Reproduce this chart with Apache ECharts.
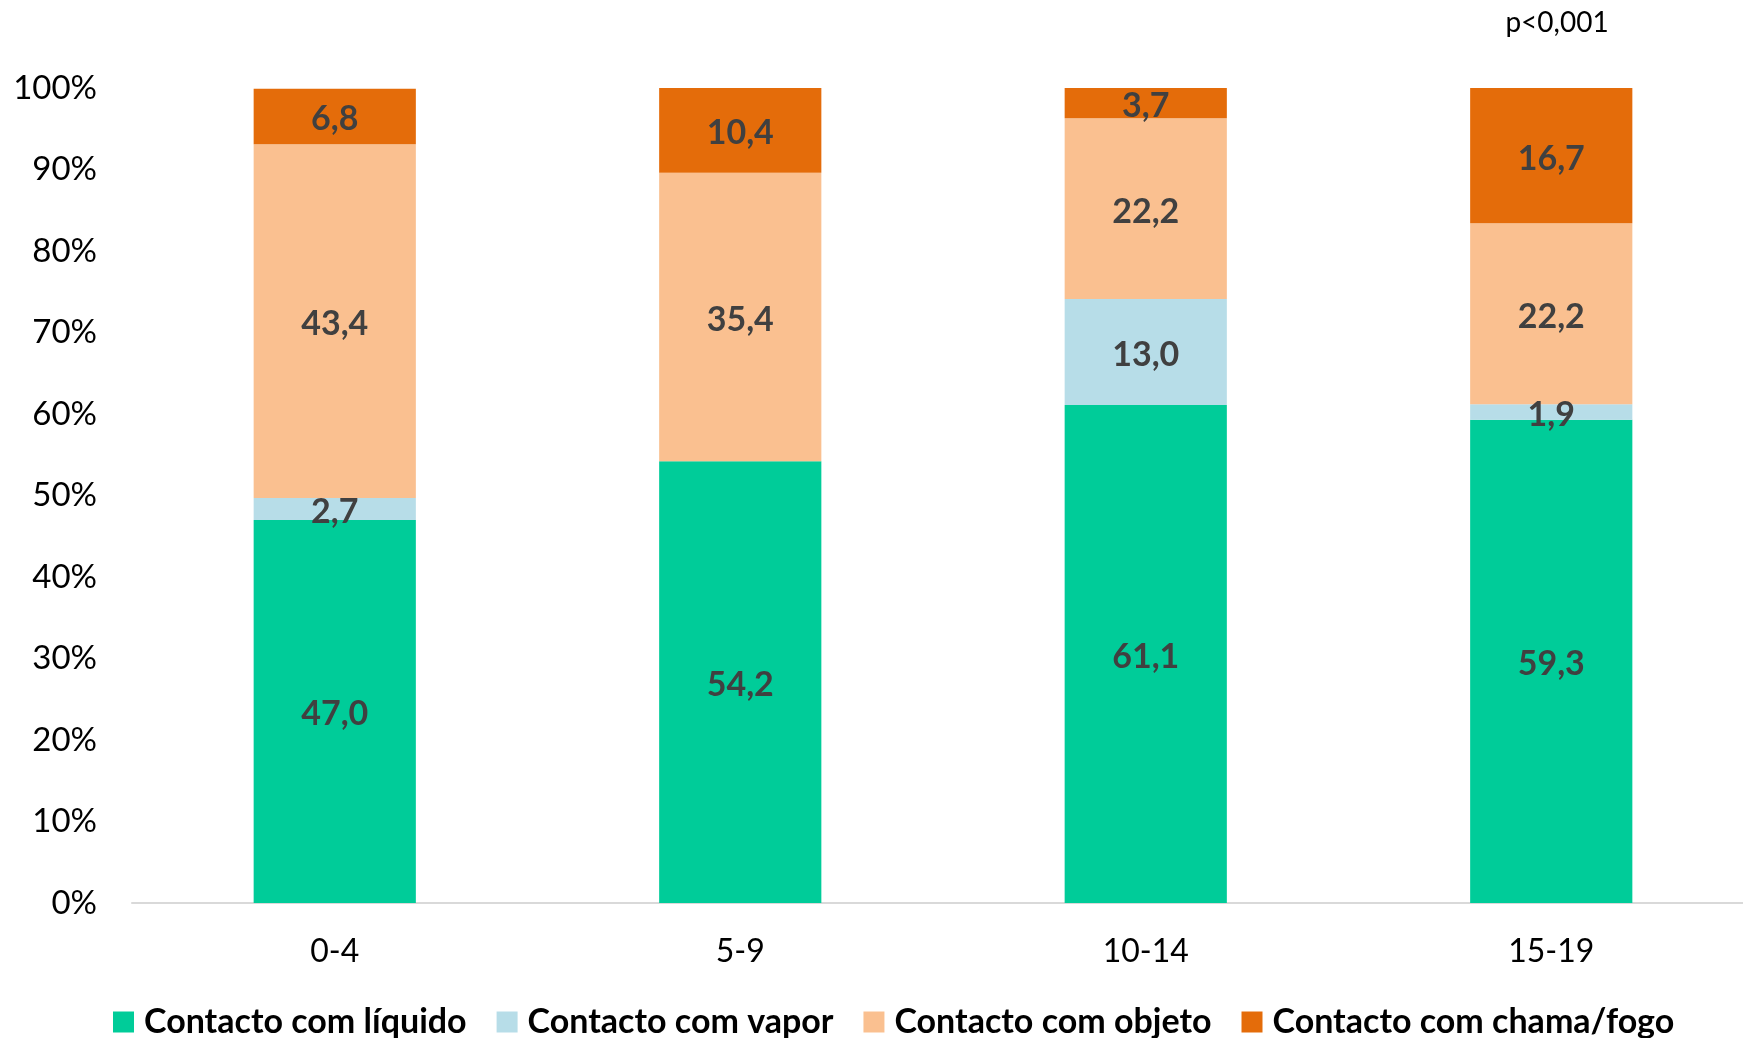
<!DOCTYPE html>
<html>
<head>
<meta charset="utf-8">
<script src="https://cdn.jsdelivr.net/npm/echarts@6/dist/echarts.min.js"></script>
<style>html,body{margin:0;padding:0;background:#fff;overflow:hidden;width:1743px;height:1038px}#c{width:1754px;height:1038px}</style>
</head>
<body>
<div id="c"></div>
<script>
const categories = ['0-4', '5-9', '10-14', '15-19'];
const seriesNames = ['Contacto com líquido', 'Contacto com vapor', 'Contacto com objeto', 'Contacto com chama/fogo'];
const liquido = [47.0, 54.2, 61.1, 59.3];
const vapor = [2.7, 0, 13.0, 1.9];
const objeto = [43.4, 35.4, 22.2, 22.2];
const chama = [6.8, 10.4, 3.7, 16.7];
const yTicks = [0, 10, 20, 30, 40, 50, 60, 70, 80, 90, 100];
const annotation = 'p<0,001';

const colors = ['#00CC99', '#B7DDE8', '#FAC090', '#E46C0A'];
const FONT = 'Lato';
const values = [liquido, vapor, objeto, chama];

const chart = echarts.init(document.getElementById('c'), null, {renderer: 'canvas'});
chart.setOption({
  animation: false,
  backgroundColor: '#fff',
  textStyle: {fontFamily: FONT},
  grid: {left: 132, right: 0, top: 88, height: 815},
  graphic: [{
    type: 'text', x: 1557, y: 23,
    style: {text: annotation, fontFamily: FONT, fontSize: 28, fill: '#000', align: 'center', verticalAlign: 'middle'}
  }],
  legend: {
    left: 108, top: 1000,
    itemWidth: 21, itemHeight: 21, itemGap: 30,
    icon: 'rect',
    textStyle: {fontFamily: FONT, fontSize: 34, fontWeight: 'bold', color: '#000', padding: [0, 0, 0, 5]},
    data: seriesNames
  },
  xAxis: {
    type: 'category', data: categories,
    axisLine: {lineStyle: {color: '#D9D9D9', width: 2}},
    axisTick: {show: false},
    axisLabel: {fontFamily: FONT, fontSize: 32, color: '#000', margin: 33}
  },
  yAxis: {
    type: 'value', min: yTicks[0], max: yTicks[yTicks.length - 1], interval: 10,
    splitLine: {show: false},
    axisLine: {show: false}, axisTick: {show: false},
    axisLabel: {fontFamily: FONT, fontSize: 33, color: '#000', margin: 35, formatter: '{value}%'}
  },
  series: seriesNames.map((n, i) => ({
    name: n, type: 'bar', stack: 'total', barWidth: '40%',
    itemStyle: {color: colors[i]},
    label: {
      show: true, position: 'inside', offset: [0, 3], fontFamily: FONT, fontSize: 34, fontWeight: 'bold', color: '#404040',
      formatter: p => p.value ? p.value.toFixed(1).replace('.', ',') : ''
    },
    data: values[i]
  }))
});
</script>
</body>
</html>
